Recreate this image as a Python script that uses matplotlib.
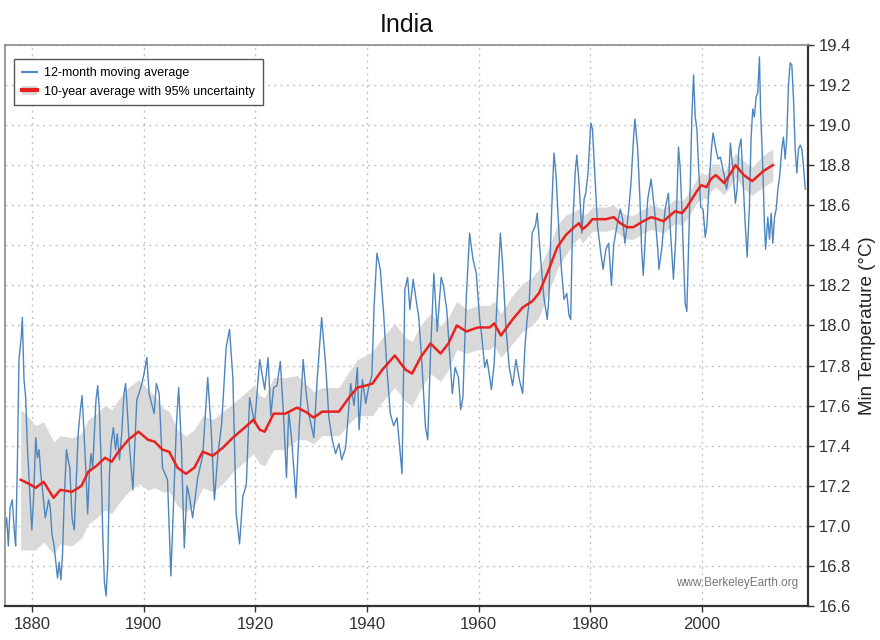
import numpy as np
import matplotlib
matplotlib.use('Agg')
import matplotlib.pyplot as plt
from matplotlib.lines import Line2D
from matplotlib.patches import Patch

plt.rcParams['font.family'] = ['Liberation Sans', 'DejaVu Sans']

# 12-month moving average
blue_years = [
    1875.2, 1875.5, 1875.8, 1876.1, 1876.5, 1876.9, 1877.1, 1877.4, 1877.7, 1878.1, 1878.3, 1878.6, 1878.9, 1879.2, 1879.7,
    1880.0, 1880.3, 1880.7, 1881.0, 1881.3, 1881.6, 1882.1, 1882.4, 1882.7, 1883.0, 1883.3, 1883.6, 1884.0, 1884.3, 1884.6,
    1884.9, 1885.2, 1885.5, 1885.8, 1886.2, 1886.5, 1886.8, 1887.2, 1887.6, 1887.9, 1888.3, 1888.7, 1889.0, 1889.3, 1889.7,
    1890.0, 1890.3, 1890.6, 1890.9, 1891.2, 1891.5, 1891.8, 1892.1, 1892.4, 1892.7, 1893.0, 1893.3, 1893.6, 1893.9, 1894.2,
    1894.6, 1895.0, 1895.3, 1895.7, 1896.1, 1896.5, 1896.8, 1897.1, 1897.4, 1897.8, 1898.1, 1898.4, 1898.8, 1899.2, 1899.7,
    1900.1, 1900.6, 1901.0, 1901.9, 1902.3, 1902.8, 1903.4, 1904.3, 1904.9, 1905.5, 1905.9, 1906.3, 1906.8, 1907.3, 1907.8,
    1908.2, 1908.8, 1909.7,
    1910.6, 1911.5, 1912.1, 1912.7, 1913.3, 1914.0, 1914.8, 1915.4, 1916.0, 1916.6, 1917.2, 1917.8, 1918.4, 1919.0, 1919.9,
    1920.8, 1921.7, 1922.3, 1922.8, 1923.3, 1923.9, 1924.5, 1925.1, 1925.6, 1926.0, 1926.5, 1927.3, 1927.9, 1928.6, 1929.1,
    1929.6,
    1930.5, 1931.1, 1931.9, 1932.6, 1933.2, 1933.8, 1934.4, 1935.0, 1935.5, 1936.2, 1937.1, 1937.7, 1938.3, 1938.6, 1939.2,
    1939.8,
    1940.3, 1940.9, 1941.3, 1941.8, 1942.4, 1943.0, 1943.6, 1944.2, 1944.8, 1945.4, 1946.3, 1946.8, 1947.3, 1947.7, 1948.3,
    1948.8, 1949.3, 1949.9,
    1950.5, 1950.9, 1951.4, 1952.0, 1952.6, 1953.3, 1953.7, 1954.3, 1954.9, 1955.3, 1955.8, 1956.4, 1956.8, 1957.2, 1957.8,
    1958.4, 1959.0, 1959.6,
    1960.2, 1960.6, 1961.1, 1961.5, 1961.9, 1962.3, 1962.8, 1963.4, 1963.9, 1964.3, 1964.9, 1965.5, 1966.1, 1966.7, 1967.3,
    1967.9, 1968.3, 1968.7, 1969.1, 1969.6,
    1970.2, 1970.5, 1971.1, 1971.7, 1972.3, 1972.6, 1973.1, 1973.5, 1973.9, 1974.4, 1974.9, 1975.3, 1975.8, 1976.2, 1976.5,
    1976.8, 1977.3, 1977.6, 1978.0, 1978.5, 1978.9, 1979.2, 1979.6,
    1980.1, 1980.4, 1980.9, 1981.3, 1981.9, 1982.3, 1982.8, 1983.3, 1983.8, 1984.2, 1984.8, 1985.4, 1985.8, 1986.2, 1986.8,
    1987.3, 1987.7, 1988.0, 1988.5, 1988.9, 1989.2, 1989.5, 1989.9,
    1990.3, 1990.9, 1991.5, 1992.1, 1992.3, 1992.8, 1993.4, 1994.0, 1994.3, 1994.9, 1995.3, 1995.8, 1996.1, 1996.4, 1996.7,
    1997.0, 1997.3, 1997.6, 1997.9, 1998.2, 1998.5, 1998.8, 1999.1, 1999.4, 1999.8,
    2000.2, 2000.6, 2000.9, 2001.3, 2001.7, 2002.0, 2002.5, 2002.9, 2003.3, 2003.9, 2004.4, 2004.8, 2005.1, 2005.5, 2006.0,
    2006.3, 2006.6, 2007.0, 2007.4, 2007.8, 2008.1, 2008.5, 2008.8, 2009.1, 2009.4, 2009.7,
    2010.0, 2010.3, 2010.5, 2010.9, 2011.2, 2011.4, 2011.8, 2012.1, 2012.4, 2012.7, 2013.0, 2013.3, 2013.6, 2013.9, 2014.3,
    2014.6, 2014.9, 2015.2, 2015.5, 2015.8, 2016.1, 2016.4, 2016.7, 2017.0, 2017.3, 2017.6, 2017.9, 2018.2, 2018.5,
]
blue_temp = [
    16.99, 17.04, 16.90, 17.09, 17.13, 16.96, 16.90, 17.29, 17.83, 17.94, 18.04, 17.73, 17.64, 17.40, 17.13,
    16.98, 17.13, 17.44, 17.34, 17.38, 17.26, 17.13, 17.04, 17.08, 17.13, 17.09, 16.96, 16.90, 16.82, 16.74,
    16.82, 16.73, 16.86, 17.13, 17.38, 17.33, 17.29, 17.04, 16.98, 17.19, 17.46, 17.58, 17.65, 17.49, 17.26,
    17.06, 17.26, 17.36, 17.29, 17.46, 17.63, 17.70, 17.58, 17.33, 16.96, 16.72, 16.65, 16.81, 17.26, 17.41,
    17.49, 17.38, 17.46, 17.33, 17.46, 17.66, 17.71, 17.58, 17.43, 17.29, 17.18, 17.38, 17.63, 17.66, 17.71,
    17.76, 17.84, 17.66, 17.56, 17.71, 17.66, 17.29, 17.23, 16.75, 17.20, 17.51, 17.69, 17.39, 16.89, 17.20,
    17.15, 17.04, 17.24,
    17.35, 17.74, 17.49, 17.13, 17.35, 17.51, 17.89, 17.98, 17.74, 17.06, 16.91, 17.15, 17.20, 17.64, 17.51,
    17.83, 17.68, 17.84, 17.55, 17.69, 17.70, 17.82, 17.54, 17.24, 17.57, 17.44, 17.14, 17.50, 17.83, 17.67,
    17.56,
    17.44, 17.73, 18.04, 17.81, 17.54, 17.43, 17.36, 17.41, 17.33, 17.39, 17.71, 17.60, 17.79, 17.48, 17.73,
    17.61,
    17.69, 17.75, 18.10, 18.36, 18.28, 18.06, 17.78, 17.56, 17.50, 17.54, 17.26, 18.18, 18.24, 18.08, 18.23,
    18.13, 18.04, 17.79,
    17.49, 17.43, 17.86, 18.26, 17.97, 18.24, 18.20, 18.08, 17.83, 17.66, 17.79, 17.74, 17.58, 17.64, 18.14,
    18.46, 18.33, 18.26,
    18.03, 17.94, 17.79, 17.83, 17.76, 17.68, 17.81, 18.18, 18.46, 18.31, 17.99, 17.79, 17.70, 17.83, 17.73,
    17.66, 17.89, 18.03, 18.13, 18.46,
    18.50, 18.56, 18.34, 18.14, 18.03, 18.14, 18.58, 18.86, 18.74, 18.46, 18.26, 18.13, 18.16, 18.05, 18.03,
    18.46, 18.76, 18.85, 18.71, 18.46, 18.63, 18.66, 18.76,
    19.01, 18.98, 18.71, 18.50, 18.36, 18.28, 18.38, 18.41, 18.20, 18.40, 18.50, 18.58, 18.53, 18.41, 18.55,
    18.71, 18.91, 19.03, 18.88, 18.63, 18.38, 18.25, 18.46,
    18.63, 18.73, 18.58, 18.38, 18.28, 18.38, 18.58, 18.66, 18.50, 18.23, 18.43, 18.89, 18.79, 18.59, 18.34,
    18.11, 18.07, 18.38, 18.69, 19.04, 19.25, 19.04, 18.98, 18.79, 18.59,
    18.58, 18.44, 18.50, 18.71, 18.88, 18.96, 18.88, 18.83, 18.84, 18.76, 18.68, 18.74, 18.91, 18.79, 18.61,
    18.68, 18.88, 18.93, 18.71, 18.48, 18.34, 18.59, 18.93, 19.08, 19.04, 19.14,
    19.16, 19.34, 19.08, 18.79, 18.50, 18.38, 18.54, 18.43, 18.56, 18.41, 18.54, 18.58, 18.68, 18.74, 18.88,
    18.94, 18.83, 18.94, 19.20, 19.31, 19.30, 19.13, 18.88, 18.76, 18.88, 18.90, 18.88, 18.79, 18.68,
]

# 10-year average and its 95% half-width
red_years = [
    1878.0, 1879.5, 1880.7, 1882.1, 1883.9, 1885.1, 1887.2, 1888.9, 1890.1, 1891.6, 1893.1, 1894.3, 1895.5, 1897.3, 1899.1,
    1900.8, 1902.0, 1903.4, 1904.6, 1906.1, 1907.6, 1909.1, 1910.6, 1912.4, 1914.2, 1916.0, 1918.1, 1919.7, 1920.8, 1921.7,
    1923.3, 1925.4, 1927.5, 1929.0, 1930.5, 1932.0, 1935.0, 1936.8, 1938.3, 1939.8, 1941.0, 1942.8, 1945.0, 1946.9, 1948.1,
    1949.6, 1951.4, 1953.2, 1954.6, 1956.1, 1957.8, 1959.9, 1962.0, 1962.8, 1964.0, 1966.1, 1967.9, 1969.6, 1970.8, 1972.6,
    1974.1, 1975.6, 1977.1, 1978.0, 1978.6, 1979.5, 1980.4, 1982.8, 1984.2, 1985.4, 1986.6, 1987.7, 1989.5, 1990.9, 1992.1,
    1993.1, 1995.2, 1996.4, 1997.3, 1998.2, 1999.1, 1999.9, 2000.8, 2001.6, 2002.5, 2004.0, 2005.4, 2006.0, 2007.5, 2009.0,
    2011.0, 2012.7,
]
red_temp = [
    17.23, 17.21, 17.19, 17.22, 17.14, 17.18, 17.17, 17.20, 17.27, 17.30, 17.34, 17.32, 17.37, 17.43, 17.47,
    17.43, 17.42, 17.38, 17.37, 17.29, 17.26, 17.29, 17.37, 17.35, 17.39, 17.44, 17.49, 17.53, 17.48, 17.47,
    17.56, 17.56, 17.59, 17.57, 17.54, 17.57, 17.57, 17.64, 17.69, 17.70, 17.71, 17.78, 17.85, 17.78, 17.76,
    17.84, 17.91, 17.86, 17.91, 18.00, 17.97, 17.99, 17.99, 18.01, 17.95, 18.03, 18.09, 18.12, 18.16, 18.28,
    18.39, 18.45, 18.49, 18.51, 18.48, 18.50, 18.53, 18.53, 18.54, 18.51, 18.49, 18.49, 18.52, 18.54, 18.53,
    18.52, 18.57, 18.56, 18.59, 18.63, 18.67, 18.70, 18.69, 18.73, 18.75, 18.71, 18.77, 18.80, 18.75, 18.72,
    18.77, 18.80,
]
red_unc = [
    0.35, 0.33, 0.31, 0.30, 0.28, 0.27, 0.27, 0.26, 0.26, 0.26, 0.26, 0.26, 0.26, 0.26, 0.26,
    0.25, 0.23, 0.21, 0.20, 0.19, 0.19, 0.19, 0.18, 0.18, 0.18, 0.17, 0.17, 0.17, 0.17, 0.17,
    0.18, 0.18, 0.16, 0.14, 0.13, 0.12, 0.12, 0.13, 0.14, 0.15, 0.16, 0.16, 0.16, 0.16, 0.16,
    0.16, 0.15, 0.14, 0.13, 0.12, 0.11, 0.11, 0.11, 0.11, 0.11, 0.12, 0.12, 0.12, 0.12, 0.11,
    0.11, 0.10, 0.08, 0.07, 0.07, 0.06, 0.06, 0.06, 0.06, 0.06, 0.06, 0.06, 0.06, 0.06, 0.06,
    0.06, 0.06, 0.06, 0.06, 0.06, 0.06, 0.06, 0.06, 0.06, 0.06, 0.06, 0.06, 0.06, 0.07, 0.07,
    0.08, 0.08,
]

x_ticks = [1880, 1900, 1920, 1940, 1960, 1980, 2000]
y_ticks = [16.6, 16.8, 17.0, 17.2, 17.4, 17.6, 17.8, 18.0, 18.2, 18.4, 18.6, 18.8, 19.0, 19.2, 19.4]

assert len(blue_years) == len(blue_temp)
assert len(red_years) == len(red_temp) == len(red_unc)

red_t = np.array(red_temp)
red_u = np.array(red_unc)

fig = plt.figure(figsize=(8.8, 6.4), dpi=100)
ax = fig.add_axes([0.0057, 0.053, 0.9125, 0.877])

band_color = '#d9d9d9'
blue_color = '#4d86bf'
red_color = '#e8231f'

ax.fill_between(red_years, red_t - red_u, red_t + red_u, color=band_color, lw=0, zorder=1)
ax.plot(blue_years, blue_temp, color=blue_color, lw=1.0, zorder=2)
ax.plot(red_years, red_temp, color=red_color, lw=1.8, zorder=3)

ax.set_xlim(1875.2, 2019.0)
ax.set_ylim(16.6, 19.4)
ax.set_xticks(x_ticks)
ax.set_yticks(y_ticks)
ax.set_yticklabels(['%.1f' % v for v in y_ticks])
ax.yaxis.tick_right()
ax.yaxis.set_label_position('right')
ax.set_ylabel('Min Temperature (°C)', fontsize=13.5, color='#222222', labelpad=6)
ax.tick_params(axis='both', labelsize=12, colors='#333333', direction='out', length=4, width=1)
ax.tick_params(axis='x', pad=4)

ax.grid(True, linestyle=(0, (1.5, 3)), color='#c4c4c4', lw=1.0, zorder=0)
ax.set_axisbelow(True)

for side in ['left', 'top']:
    ax.spines[side].set_color('#8a8a8a')
    ax.spines[side].set_linewidth(1.2)
for side in ['bottom', 'right']:
    ax.spines[side].set_color('#333333')
    ax.spines[side].set_linewidth(1.6)

ax.set_title('India', fontsize=18, pad=9, color='#111111')

handles = [Line2D([], [], color=blue_color, lw=1.5),
           (Patch(facecolor=band_color, edgecolor='none'), Line2D([], [], color=red_color, lw=3))]
labels = ['12-month moving average', '10-year average with 95% uncertainty']
leg = ax.legend(handles, labels, loc='upper left', bbox_to_anchor=(0.004, 0.985), fontsize=9,
                fancybox=False, edgecolor='#555555', framealpha=1, handlelength=1.2,
                borderpad=0.6, labelspacing=0.55, handletextpad=0.6)
leg.get_frame().set_linewidth(1.0)

ax.text(0.988, 0.03, 'www.BerkeleyEarth.org', transform=ax.transAxes, ha='right', va='bottom',
        fontsize=8.5, color='#777777')

fig.savefig('out.png', dpi=100)
